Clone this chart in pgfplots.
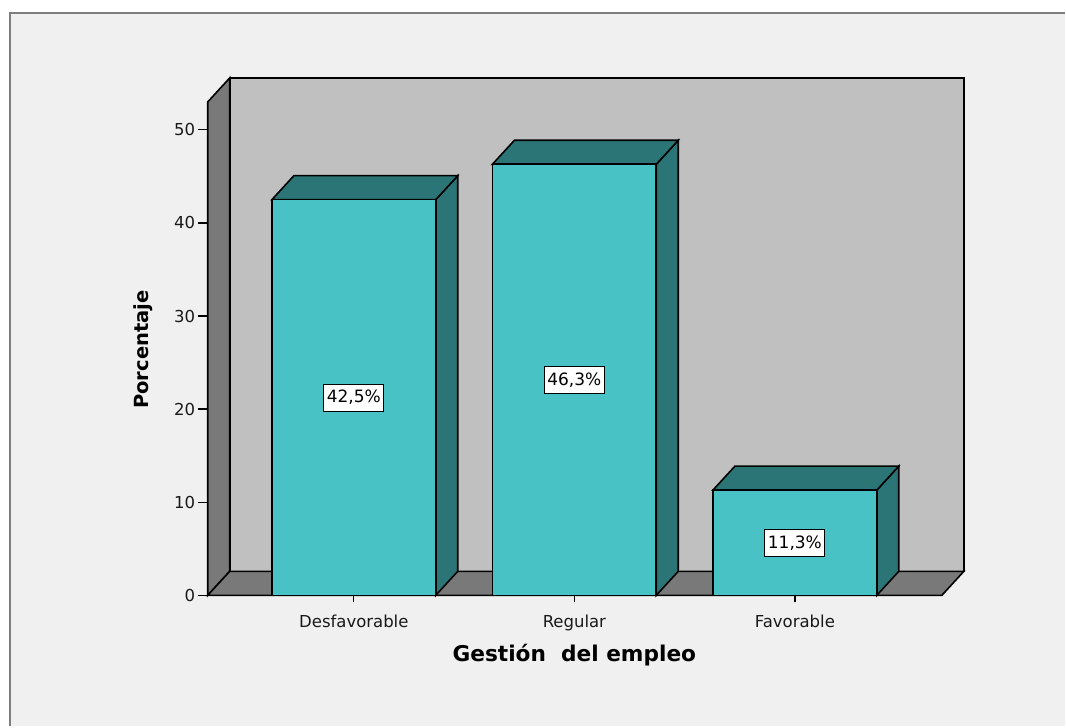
\documentclass[border=0pt]{standalone}
\usepackage{fontspec}
\setmainfont{DejaVu Sans}
\usepackage{pgfplots}
\pgfplotsset{compat=1.18}
\definecolor{bgc}{HTML}{F0F0F0}
\definecolor{framec}{HTML}{7E7E7E}
\definecolor{backwall}{HTML}{C0C0C0}
\definecolor{sidewall}{HTML}{797979}
\definecolor{barfront}{HTML}{48C2C5}
\definecolor{bardark}{HTML}{2C7577}
\begin{document}
\begin{tikzpicture}
\fill[white] (0,0) rectangle (1066bp,727bp);
\fill[bgc] (10bp,0) rectangle (1066bp,714bp);
\draw[framec, line width=2.5bp] (10bp,0) -- (10bp,714bp) -- (1066bp,714bp);
\begin{axis}[
  at={(208bp,131bp)}, anchor=south west,
  scale only axis, width=735bp, height=494bp,
  xmin=-0.6625, xmax=2.6667, ymin=0, ymax=53,
  clip=false,
  axis line style={draw=none},
  xtick={0,1,2}, xticklabels={Desfavorable,Regular,Favorable},
  ytick={0,10,20,30,40,50},
  tick pos=left, tick align=outside,
  xtick style={black, line width=1.3bp, /pgfplots/major tick length=7bp},
  ytick style={black, line width=1.3bp, /pgfplots/major tick length=10bp},
  /pgf/number format/assume math mode=true,
  ticklabel style={font=\fontsize{16.5bp}{19bp}\selectfont, text=black!90},
  xticklabel style={anchor=base, yshift=-28bp},
  yticklabel style={xshift=-5bp},
  xlabel={Gestión\ \ del empleo},
  ylabel={Porcentaje},
  xlabel style={font=\bfseries\fontsize{21.7bp}{26bp}\selectfont, at={(axis description cs:0.4993,-0.1342)}, anchor=base},
  ylabel style={font=\bfseries\fontsize{19.5bp}{23bp}\selectfont, at={(axis description cs:-0.0884,0.498)}, anchor=center},
]
% back wall, left wall, floor
\addplot[fill=backwall, draw=black, line width=1.6bp] coordinates {(-0.5628,2.5748) (2.7663,2.5748) (2.7663,55.5748) (-0.5628,55.5748)} -- cycle;
\addplot[fill=sidewall, draw=black, line width=1.6bp] coordinates {(-0.6625,0) (-0.5628,2.5748) (-0.5628,55.5748) (-0.6625,53)} -- cycle;
\addplot[fill=sidewall, draw=black, line width=1.6bp] coordinates {(-0.6625,0) (2.6667,0) (2.7663,2.5748) (-0.5628,2.5748)} -- cycle;
% bar sides and tops
\addplot[fill=bardark, draw=black, line width=1.6bp] coordinates {(0.3715,0) (0.4712,2.5748) (0.4712,45.0748) (0.3715,42.5)} -- cycle;
\addplot[fill=bardark, draw=black, line width=1.6bp] coordinates {(-0.3715,42.5) (-0.2718,45.0748) (0.4712,45.0748) (0.3715,42.5)} -- cycle;
\addplot[fill=bardark, draw=black, line width=1.6bp] coordinates {(1.3715,0) (1.4712,2.5748) (1.4712,48.8748) (1.3715,46.3)} -- cycle;
\addplot[fill=bardark, draw=black, line width=1.6bp] coordinates {(0.6285,46.3) (0.7282,48.8748) (1.4712,48.8748) (1.3715,46.3)} -- cycle;
\addplot[fill=bardark, draw=black, line width=1.6bp] coordinates {(2.3715,0) (2.4712,2.5748) (2.4712,13.8748) (2.3715,11.3)} -- cycle;
\addplot[fill=bardark, draw=black, line width=1.6bp] coordinates {(1.6285,11.3) (1.7282,13.8748) (2.4712,13.8748) (2.3715,11.3)} -- cycle;
% bar fronts
\addplot[ybar, bar width=0.743, fill=barfront, draw=black, line width=1.6bp] coordinates {(0,42.5) (1,46.3) (2,11.3)};
% value labels
\addplot[draw=none, mark=none, nodes near coords, point meta=explicit symbolic,
  nodes near coords style={anchor=center, fill=white, draw=black, text=black, line width=0.9bp, inner xsep=3bp, inner ysep=0bp, minimum height=27bp, font=\fontsize{17bp}{20bp}\selectfont}]
  coordinates {(0,21.25) [42,5\%] (1,23.15) [46,3\%] (2,5.65) [11,3\%]};
\end{axis}
\end{tikzpicture}
\end{document}
